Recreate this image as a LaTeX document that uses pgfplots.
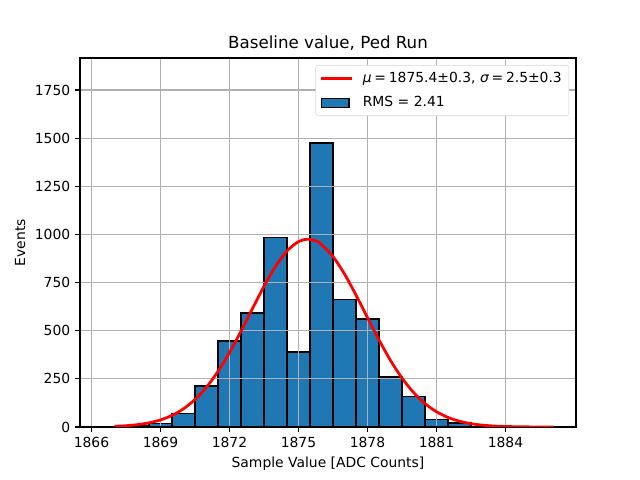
\documentclass[border=0pt]{standalone}
\usepackage{fontspec}
\setmainfont{DejaVu Sans}
\usepackage{pgfplots}
\pgfplotsset{compat=1.18}
\definecolor{mplblue}{HTML}{1F77B4}
\definecolor{gridgray}{HTML}{B0B0B0}
\definecolor{leggray}{HTML}{D6D6D6}
\begin{document}
\begin{tikzpicture}
\begin{axis}[
  at={(0,0)}, anchor=south west,
  set layers,
  scale only axis, width=357.12pt, height=265.68pt,
  xmin=1865.5, xmax=1887.0652, ymin=0, ymax=1916,
  xtick={1866,1869,1872,1875,1878,1881,1884},
  ytick={0,250,500,750,1000,1250,1500,1750},
  /pgf/number format/.cd, assume math mode=true, set thousands separator={}, 1000 sep={},
  /pgfplots/.cd,
  scaled ticks=false,
  tick align=outside, major tick length=3.5pt,
  major tick style={black, line width=0.8pt},
  xtick pos=bottom, ytick pos=left,
  axis line style={line width=0.8pt},
  xmajorgrids, ymajorgrids, major grid style={gridgray, line width=0.8pt},
  tick label style={font=\fontsize{10}{12}\selectfont},
  label style={font=\fontsize{10}{12}\selectfont},
  title style={font=\fontsize{12}{14}\selectfont, yshift=-4pt},
  title={Baseline value, Ped Run},
  xlabel={Sample Value [ADC Counts]},
  ylabel={Events},
  legend style={at={(0.986,0.981)}, anchor=north east, draw=leggray, rounded corners=2pt, font=\fontsize{10}{12}\selectfont, fill=white, row sep=4.5pt, inner sep=3pt},
  legend cell align=left,
]
\addplot[ybar, bar width=1, bar shift=0pt, fill=mplblue, draw=black, line width=1pt, forget plot, on layer=axis background] coordinates {
(1867,2) (1868,5) (1869,19) (1870,71) (1871,213) (1872,447) (1873,592)
(1874,985) (1875,390) (1876,1474) (1877,663) (1878,561) (1879,260)
(1880,159) (1881,40) (1882,21) (1883,4) (1884,1) (1885,0)
};
\addplot[red, line width=2pt, smooth,
  legend image code/.code={\draw[red, line width=2pt, sharp corners] (1pt,0pt) -- (23pt,0pt); \path (28pt,0pt);}] coordinates {
(1867,3.5) (1867.5,6.6) (1868,12.2) (1868.5,21.6) (1869,36.8) (1869.5,60.2) (1870,94.5)
(1870.5,142.8) (1871,207.2) (1871.5,288.8) (1872,386.7) (1872.5,497.5) (1873,615)
(1873.5,730.5) (1874,833.5) (1874.5,913.9) (1875,962.6) (1875.4,975) (1875.8,965) (1876,947.3)
(1876.5,885) (1877,794.4) (1877.5,685.1) (1878,567.7) (1878.5,452) (1879,345.7)
(1879.5,254.1) (1880,179.4) (1880.5,121.7) (1881,79.4) (1881.5,49.7) (1882,29.9)
(1882.5,17.3) (1883,9.6) (1883.5,5.1) (1884,2.6) (1885,0.6) (1886.1,0.1)
};
\addlegendentry{{\itshape μ}\hspace{2pt}=\hspace{2pt}1875.4±0.3, {\itshape σ}\hspace{2pt}=\hspace{2pt}2.5±0.3}
\addlegendimage{legend image code/.code={\draw[fill=mplblue, draw=black, line width=0.8pt, sharp corners] (1pt,-3.2pt) rectangle (21pt,3.2pt); \path (28pt,0pt);}}
\addlegendentry{RMS = 2.41}
\end{axis}
\pgfresetboundingbox
\path[use as bounding box] (-57.6pt,-38.16pt) rectangle (403.2pt,307.44pt);
\end{tikzpicture}
\end{document}
